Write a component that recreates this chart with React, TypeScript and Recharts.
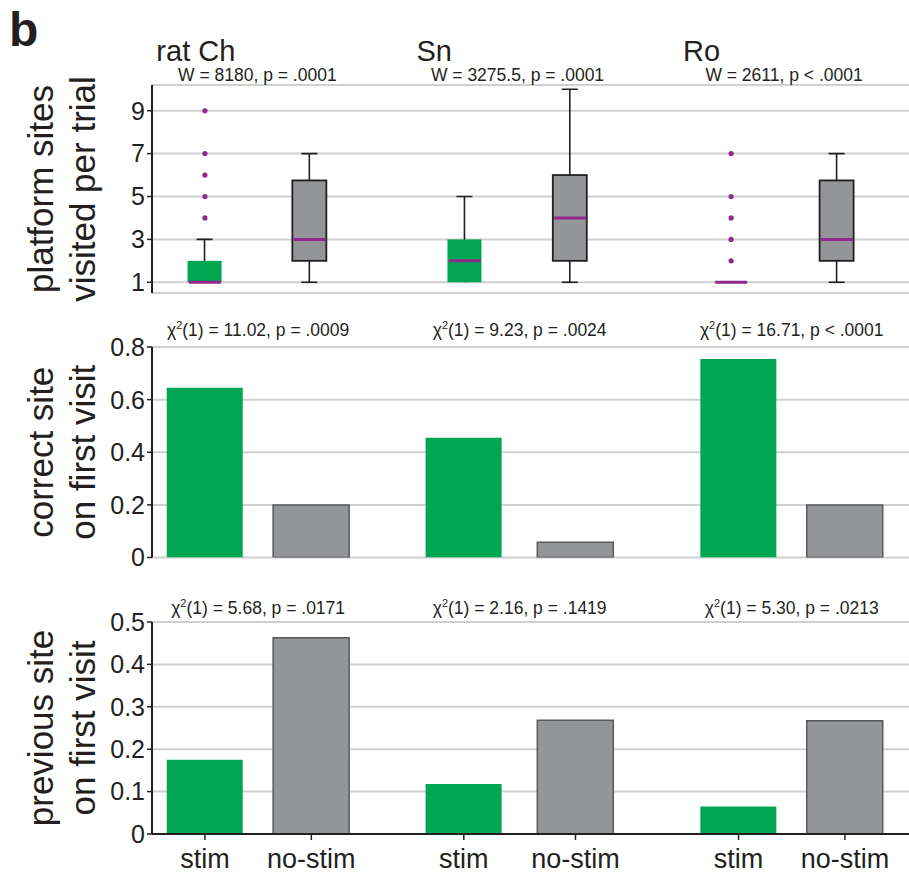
import React from "react";
import { Bar, CartesianGrid, Cell, ComposedChart, Scatter, XAxis, YAxis } from "recharts";

const FONT = "'Liberation Sans', Arial, Helvetica, sans-serif";
const INK = "#231f20";
const GREEN = "#00a651";
const GRAY = "#939598";
const GRAY_EDGE = "#58595b";
const PURPLE = "#92278f";
const GRID = "#d0d0d0";

const groups = ["rat Ch", "Sn", "Ro"];
const conditions = ["stim", "no-stim"];

// platform sites visited per trial (stim / no-stim per rat)
const boxLow = [1, 1, 1, 1, 1, 1];
const boxQ1 = [1, 2, 1, 2, 1, 2];
const boxMedian = [1, 3, 2, 4, 1, 3];
const boxQ3 = [2, 5.75, 3, 6, 1, 5.75];
const boxHigh = [3, 7, 5, 10, 1, 7];
const boxOutliers = [[4, 5, 6, 7, 9], [], [], [], [2, 3, 4, 5, 7], []];
const wilcoxon = ["W = 8180, p = .0001", "W = 3275.5, p = .0001", "W = 2611, p < .0001"];

// correct site on first visit
const correctStim = [0.645, 0.455, 0.754];
const correctNoStim = [0.2, 0.058, 0.2];
const correctChi = ["11.02", "9.23", "16.71"];
const correctP = ["= .0009", "= .0024", "< .0001"];

// previous site on first visit
const previousStim = [0.175, 0.118, 0.065];
const previousNoStim = [0.463, 0.268, 0.267];
const previousChi = ["5.68", "2.16", "5.30"];
const previousP = ["= .0171", "= .1419", "= .0213"];

// where the six boxes / bars sit along the x axis
const X_DOMAIN = [0, 14.3];
const BOX_SLOTS = [1, 2.98, 5.91, 7.9, 10.94, 12.94];
const BAR_SLOTS = [1, 3.01, 5.89, 8, 11.08, 13.09];

const pairMids = (slots: number[]) => [0, 1, 2].map((g) => (slots[g * 2] + slots[g * 2 + 1]) / 2);

const boxRows = BOX_SLOTS.map((x, i) => ({
  x,
  cond: i % 2,
  lo: boxLow[i],
  q1: boxQ1[i],
  med: boxMedian[i],
  q3: boxQ3[i],
  hi: boxHigh[i],
}));
const medianPoints = boxRows.map((r) => ({ x: r.x, y: r.med }));
const outlierPoints = BOX_SLOTS.flatMap((x, i) => boxOutliers[i].map((y) => ({ x, y })));

function barRows(stim: number[], noStim: number[]) {
  return BAR_SLOTS.map((x, i) => ({
    x,
    cond: i % 2,
    v: i % 2 === 0 ? stim[i >> 1] : noStim[i >> 1],
  }));
}

function AxisTitle({ viewBox, lines }: any) {
  const cy = viewBox.y + viewBox.height / 2;
  return (
    <text transform={`translate(53, ${cy}) rotate(-90)`} textAnchor="middle" fontSize={35} fill={INK} fontFamily={FONT}>
      <tspan x={0} dy={0}>{lines[0]}</tspan>
      <tspan x={0} dy={42}>{lines[1]}</tspan>
    </text>
  );
}

function StatTick(props: any) {
  const { x, y, payload, mids, gap, texts, chi, ps, titles } = props;
  const i = mids.indexOf(payload.value);
  return (
    <g>
      {titles && (
        <text x={x - 101} y={y - 24} fontSize={29} fill={INK} fontFamily={FONT}>
          {titles[i]}
        </text>
      )}
      <text x={x} y={y - gap} textAnchor="middle" fontSize={17.5} fill={INK} fontFamily={FONT}>
        {texts ? (
          texts[i]
        ) : (
          <>
            <tspan>χ</tspan>
            <tspan dy={-7} fontSize={11}>2</tspan>
            <tspan dy={7}>{`(1) = ${chi[i]}, p ${ps[i]}`}</tspan>
          </>
        )}
      </text>
    </g>
  );
}

function Whisker(props: any) {
  const { x, y, width, height, payload } = props;
  if (height == null || Math.abs(height) < 0.5) return <g />;
  const cx = x + width / 2;
  const top = Math.min(y, y + height);
  const bottom = Math.max(y, y + height);
  return (
    <g stroke={INK} strokeWidth={1.6}>
      <line x1={cx} x2={cx} y1={top} y2={bottom} />
      {payload.hi > payload.q3 && <line x1={cx - 8} x2={cx + 8} y1={top} y2={top} />}
      {payload.lo < payload.q1 && <line x1={cx - 8} x2={cx + 8} y1={bottom} y2={bottom} />}
    </g>
  );
}

function BoxRect(props: any) {
  const { x, y, width, height, payload } = props;
  if (height == null || Math.abs(height) < 0.5) return <g />;
  const stim = payload.cond === 0;
  return (
    <rect
      x={x}
      y={Math.min(y, y + height)}
      width={width}
      height={Math.abs(height)}
      fill={stim ? GREEN : GRAY}
      stroke={stim ? "none" : INK}
      strokeWidth={1.8}
    />
  );
}

const yAxisCommon = {
  width: 152,
  tick: { fill: INK, fontSize: 25, fontFamily: FONT },
  tickLine: { stroke: INK, strokeWidth: 1.5 },
  axisLine: { stroke: INK, strokeWidth: 2 },
  tickSize: 5,
  tickMargin: 2,
  allowDataOverflow: true,
  interval: 0 as const,
};

function BoxPanel() {
  const mids = pairMids(BOX_SLOTS);
  return (
    <ComposedChart width={909} height={320} data={boxRows} margin={{ top: 55, right: 0, bottom: 27, left: 0 }}>
      <CartesianGrid vertical={false} stroke={GRID} strokeWidth={2} />
      <XAxis type="number" dataKey="x" domain={X_DOMAIN} hide />
      <XAxis xAxisId="w" type="number" dataKey="x" domain={X_DOMAIN} hide />
      <XAxis
        xAxisId="ann"
        orientation="top"
        type="number"
        dataKey="x"
        domain={X_DOMAIN}
        ticks={mids}
        interval={0}
        height={30}
        axisLine={false}
        tickLine={false}
        tickSize={0}
        tickMargin={0}
        tick={<StatTick mids={mids} gap={4} texts={wilcoxon} titles={groups} />}
      />
      <YAxis
        {...yAxisCommon}
        type="number"
        domain={[0.5, 10.2]}
        ticks={[1, 3, 5, 7, 9]}
        label={{ content: (p: any) => <AxisTitle viewBox={p.viewBox} lines={["platform sites", "visited per trial"]} /> }}
      />
      <Bar xAxisId="w" dataKey={(d: any) => [d.lo, d.hi]} barSize={20} shape={<Whisker />} isAnimationActive={false} />
      <Bar dataKey={(d: any) => [d.q1, d.q3]} barSize={34} shape={<BoxRect />} isAnimationActive={false} />
      <Scatter
        data={medianPoints}
        dataKey="y"
        isAnimationActive={false}
        shape={(p: any) => <line x1={p.cx - 16} x2={p.cx + 16} y1={p.cy} y2={p.cy} stroke={PURPLE} strokeWidth={3} />}
      />
      <Scatter
        data={outlierPoints}
        dataKey="y"
        isAnimationActive={false}
        shape={(p: any) => <circle cx={p.cx} cy={p.cy} r={2.6} fill={PURPLE} />}
      />
    </ComposedChart>
  );
}

function BarPanel({ rows, chi, ps, yMax, ticks, lines, height, top, gap, showX }: any) {
  const mids = pairMids(BAR_SLOTS);
  return (
    <ComposedChart
      width={909}
      height={height}
      data={rows}
      margin={{ top, right: 0, bottom: showX ? 0 : 16.5, left: 0 }}
    >
      <CartesianGrid vertical={false} stroke={GRID} strokeWidth={2} />
      <XAxis
        type="number"
        dataKey="x"
        domain={X_DOMAIN}
        hide={!showX}
        ticks={BAR_SLOTS}
        interval={0}
        height={40}
        tickFormatter={(_v: number, i: number) => conditions[i % 2]}
        tick={{ fill: INK, fontSize: 27, fontFamily: FONT }}
        tickLine={{ stroke: INK, strokeWidth: 1.5 }}
        axisLine={{ stroke: INK, strokeWidth: 2 }}
        tickSize={6}
        tickMargin={9}
      />
      <XAxis
        xAxisId="ann"
        orientation="top"
        type="number"
        dataKey="x"
        domain={X_DOMAIN}
        ticks={mids}
        interval={0}
        height={30}
        axisLine={false}
        tickLine={false}
        tickSize={0}
        tickMargin={0}
        tick={<StatTick mids={mids} gap={gap} chi={chi} ps={ps} />}
      />
      <YAxis
        {...yAxisCommon}
        type="number"
        domain={[0, yMax]}
        ticks={ticks}
        tickFormatter={(v: number) => (v === 0 ? "0" : String(v))}
        label={{ content: (p: any) => <AxisTitle viewBox={p.viewBox} lines={lines} /> }}
      />
      <Bar dataKey="v" barSize={76} isAnimationActive={false}>
        {rows.map((r: any, i: number) => (
          <Cell
            key={i}
            fill={r.cond === 0 ? GREEN : GRAY}
            stroke={r.cond === 0 ? "none" : GRAY_EDGE}
            strokeWidth={1.5}
          />
        ))}
      </Bar>
    </ComposedChart>
  );
}

export default function App() {
  return (
    <div style={{ position: "relative", width: 909, height: 874, background: "#fff", fontFamily: FONT, color: INK }}>
      <style>{"body{margin:0}"}</style>
      <div style={{ position: "absolute", left: 0, top: 0 }}>
        <BoxPanel />
      </div>
      <div style={{ position: "absolute", left: 0, top: 300 }}>
        <BarPanel
          rows={barRows(correctStim, correctNoStim)}
          chi={correctChi}
          ps={correctP}
          yMax={0.8}
          ticks={[0, 0.2, 0.4, 0.6, 0.8]}
          lines={["correct site", "on first visit"]}
          height={274}
          top={17}
          gap={11}
          showX={false}
        />
      </div>
      <div style={{ position: "absolute", left: 0, top: 574 }}>
        <BarPanel
          rows={barRows(previousStim, previousNoStim)}
          chi={previousChi}
          ps={previousP}
          yMax={0.5}
          ticks={[0, 0.1, 0.2, 0.3, 0.4, 0.5]}
          lines={["previous site", "on first visit"]}
          height={300}
          top={18}
          gap={8}
          showX={true}
        />
      </div>
      <div style={{ position: "absolute", left: 9, top: 6, fontSize: 48, fontWeight: "bold", lineHeight: "48px" }}>b</div>
    </div>
  );
}
